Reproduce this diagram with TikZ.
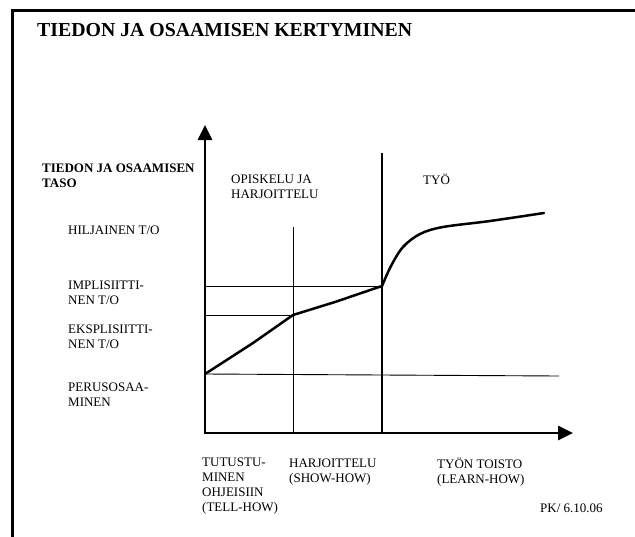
\documentclass[tikz,border=0pt]{standalone}
\usepackage{fontspec}
\setmainfont{Liberation Serif}
\usetikzlibrary{arrows.meta}
\begin{document}
\begin{tikzpicture}[x=1pt,y=-1pt,
  lbl/.style={anchor=base west, inner sep=0pt, align=left, font=\fontsize{13}{15}\selectfont},
  blbl/.style={lbl, font=\fontsize{13}{15}\selectfont\bfseries},
  thinline/.style={line width=0.9pt},
  midline/.style={line width=1.8pt},
  axis/.style={line width=2.6pt, -{Triangle[length=15pt,width=14pt]}},
  curve/.style={line width=2.5pt, line join=round, line cap=round}]
\useasboundingbox (0,0) rectangle (635,536);
% frame
\draw[line width=3pt, line join=miter] (12,537) -- (12,10) -- (636,10);
% title
\node[anchor=base west, inner sep=0pt, font=\fontsize{19.8}{22}\selectfont\bfseries] (title) at (37,36) {TIEDON JA OSAAMISEN KERTYMINEN};
% coordinates
\coordinate (O) at (205,433);
\coordinate (ytip) at (205,125);
\coordinate (xtip) at (573,433);
\coordinate (v1top) at (293,227);
\coordinate (v1bot) at (293,433);
\coordinate (v2top) at (382,153);
\coordinate (v2bot) at (382,433);
\coordinate (h1a) at (205,286);
\coordinate (h1b) at (382,286);
\coordinate (h2a) at (205,315);
\coordinate (h2b) at (293,315);
\coordinate (h3a) at (205,374);
\coordinate (h3b) at (559,376);
% grid lines
\draw[thinline] (v1top) -- (v1bot);
\draw[midline] (v2top) -- (v2bot);
\draw[thinline] (h1a) -- (h1b);
\draw[thinline] (h2a) -- (h2b);
\draw[thinline] (h3a) -- (h3b);
% axes
\draw[axis] (203.7,433) -- (xtip);
\draw[axis] (O) -- (ytip);
% curve
\draw[curve] (h3a) -- (253,343) -- (h2b) -- (335,302) -- (h1b);
\draw[curve] plot[smooth, tension=0.55] coordinates {(382,286) (391,266) (403,247) (420,234) (443,227) (490,221) (544,213)};
% labels (anchor = baseline of the last line)
\node[blbl] (taso) at (42,187) {TIEDON JA OSAAMISEN\\TASO};
\node[lbl] (hil) at (68,234) {HILJAINEN T/O};
\node[lbl] (imp) at (68,304) {IMPLISIITTI-\\NEN T/O};
\node[lbl] (eks) at (68,348.5) {EKSPLISIITTI-\\NEN T/O};
\node[lbl] (per) at (68,406.5) {PERUSOSAA-\\MINEN};
\node[lbl] (opi) at (231,198) {OPISKELU JA\\HARJOITTELU};
\node[lbl] (tyo) at (423,184) {TYÖ};
\node[lbl] (tut) at (202,511.5) {TUTUSTU-\\MINEN\\OHJEISIIN\\(TELL-HOW)};
\node[lbl] (har) at (289,482) {HARJOITTELU\\(SHOW-HOW)};
\node[lbl] (toi) at (437,483) {TYÖN TOISTO\\(LEARN-HOW)};
\node[lbl] (pk) at (540,512) {PK/ 6.10.06};
\end{tikzpicture}
\end{document}
